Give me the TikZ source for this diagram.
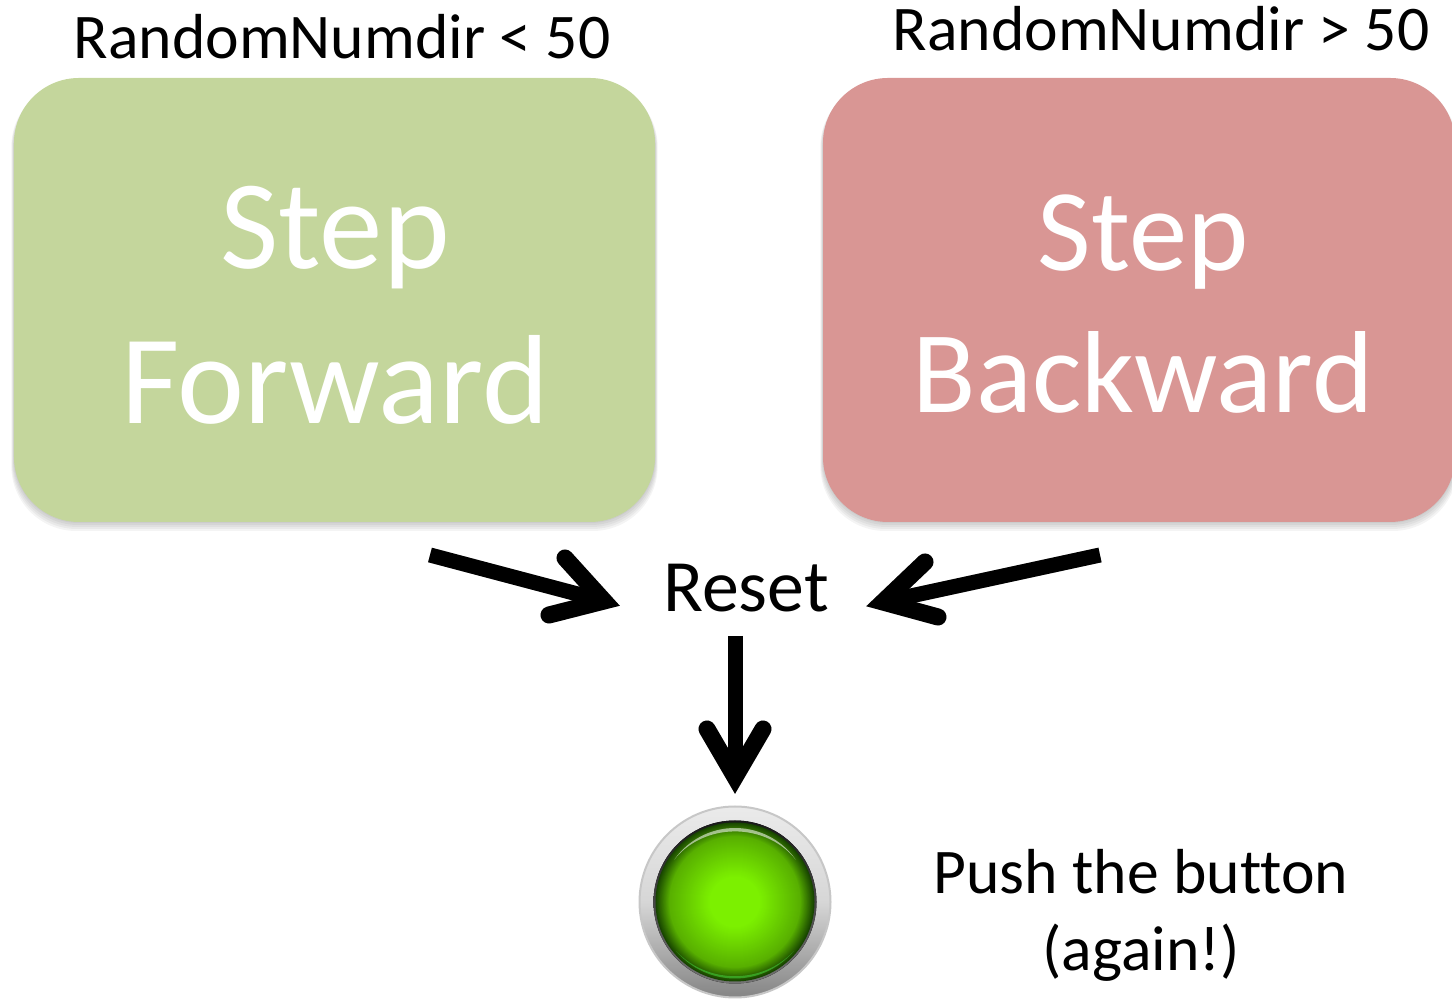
\documentclass[tikz,border=0pt]{standalone}
\usepackage{fontspec}
\setmainfont[Ligatures=NoCommon]{Carlito}
\usetikzlibrary{calc}
\definecolor{boxgreen}{HTML}{C4D69C}
\definecolor{boxred}{HTML}{D99694}
\definecolor{glowdark}{HTML}{174400}
\definecolor{glowmid}{HTML}{58B000}
\definecolor{glowbright}{HTML}{7CF000}
\tikzset{
	boxstyle/.style={rounded corners=0.65cm, minimum width=#1, minimum height=4.44cm, inner sep=0},
	bigtext/.style={white, align=center},
	labeltext/.style={black, font=\fontsize{18.1}{21}\selectfont},
	shaft/.style={line width=0.15cm},
	barb/.style={line width=0.17cm, line cap=round, line join=miter, miter limit=10}
}
\begin{document}
\begin{tikzpicture}
	\useasboundingbox (0, 0) rectangle (14.52, 9.99);

	%%%%% boxes %%%%%
	\foreach \grow in {0.09, 0.07, 0.05, 0.03, 0.01} {
		\fill[black, opacity=0.045, rounded corners=0.65cm] (0.14-\grow*0.3, 4.77-\grow) rectangle (6.55+\grow*0.3, 9.17);
		\fill[black, opacity=0.045, rounded corners=0.65cm] (8.23-\grow*0.3, 4.77-\grow) rectangle (14.55+\grow*0.3, 9.17);
	}
	\node[boxstyle=6.41cm, fill=boxgreen] (fwbox) at (3.345, 6.99) {};
	\node[boxstyle=6.32cm, fill=boxred] (bwbox) at (11.39, 6.99) {};

	\node[bigtext, font=\fontsize{36.1}{44.1}\selectfont] (fwtext) at (3.35, 6.94) {Step\\Forward};
	\node[bigtext, font=\fontsize{33.2}{40.2}\selectfont] (bwtext) at (11.43, 6.95) {Step\\Backward};

	\node[labeltext, anchor=base] (fwlabel) at (3.42, 9.40) {RandomNumdir < 50};
	\node[labeltext, anchor=base] (bwlabel) at (11.61, 9.48) {RandomNumdir > 50};

	\node[labeltext, anchor=base, font=\fontsize{21}{25}\selectfont] (reset) at (7.46, 3.87) {Reset};
	\node[labeltext, align=center, font=\fontsize{18.1}{21.9}\selectfont] (pushtext) at (11.41, 0.84) {Push the button\\(again!)};

	%%%%% arrows %%%%%
	\coordinate (fwtail) at (4.30, 4.44);
	\coordinate (fwtip) at (6.04, 3.98);
	\coordinate (fwup) at (5.65, 4.41);
	\coordinate (fwdown) at (5.49, 3.84);

	\coordinate (bwtail) at (11.00, 4.44);
	\coordinate (bwtip) at (8.83, 3.97);
	\coordinate (bwup) at (9.25, 4.37);
	\coordinate (bwdown) at (9.38, 3.82);

	\coordinate (downtail) at (7.35, 3.63);
	\coordinate (downtip) at (7.35, 2.22);
	\coordinate (downleft) at (7.07, 2.70);
	\coordinate (downright) at (7.63, 2.70);

	\foreach \off/\alpha in {0.05/0.06, 0.035/0.08, 0.02/0.1} {
		\begin{scope}[shift={(\off*0.6, -\off)}, black, opacity=\alpha]
			\draw[shaft] (fwtail) -- (fwtip);
			\draw[barb] (fwup) -- (fwtip) -- (fwdown);
			\draw[shaft] (bwtail) -- (bwtip);
			\draw[barb] (bwup) -- (bwtip) -- (bwdown);
			\draw[shaft] (downtail) -- (downtip);
			\draw[barb] (downleft) -- (downtip) -- (downright);
		\end{scope}
	}
	\draw[shaft] (fwtail) -- (fwtip);
	\draw[barb] (fwup) -- (fwtip) -- (fwdown);
	\draw[shaft] (bwtail) -- (bwtip);
	\draw[barb] (bwup) -- (bwtip) -- (bwdown);
	\draw[shaft] (downtail) -- (downtip);
	\draw[barb] (downleft) -- (downtip) -- (downright);

	%%%%% button %%%%%
	\coordinate (button) at (7.35, 0.97);
	\draw[black!22, line width=0.2mm, top color=black!8, bottom color=black!48, middle color=black!16] (button) circle (0.955);
	\fill[top color=black!90, bottom color=black!55] (button) circle (0.815);
	\foreach \i in {0,...,20} {
		\pgfmathsetmacro\mixval{\i*5}
		\fill[glowmid!\mixval!glowdark] (button) circle ({0.795-0.14*\i/20});
	}
	\foreach \i in {0,...,40} {
		\pgfmathsetmacro\mixval{\i*100/40}
		\fill[glowbright!\mixval!glowmid] (button) circle ({0.655-0.40*\i/40});
	}
	\fill[white, opacity=0.55] ($(button)+(145:0.74)$) arc (145:35:0.74) arc (35:145:0.74 and 0.66) -- cycle;
	\fill[black!10!green!70!white, opacity=0.45] ($(button)+(-140:0.765)$) arc (-140:-40:0.765) arc (-40:-140:0.765 and 0.70) -- cycle;
\end{tikzpicture}
\end{document}
